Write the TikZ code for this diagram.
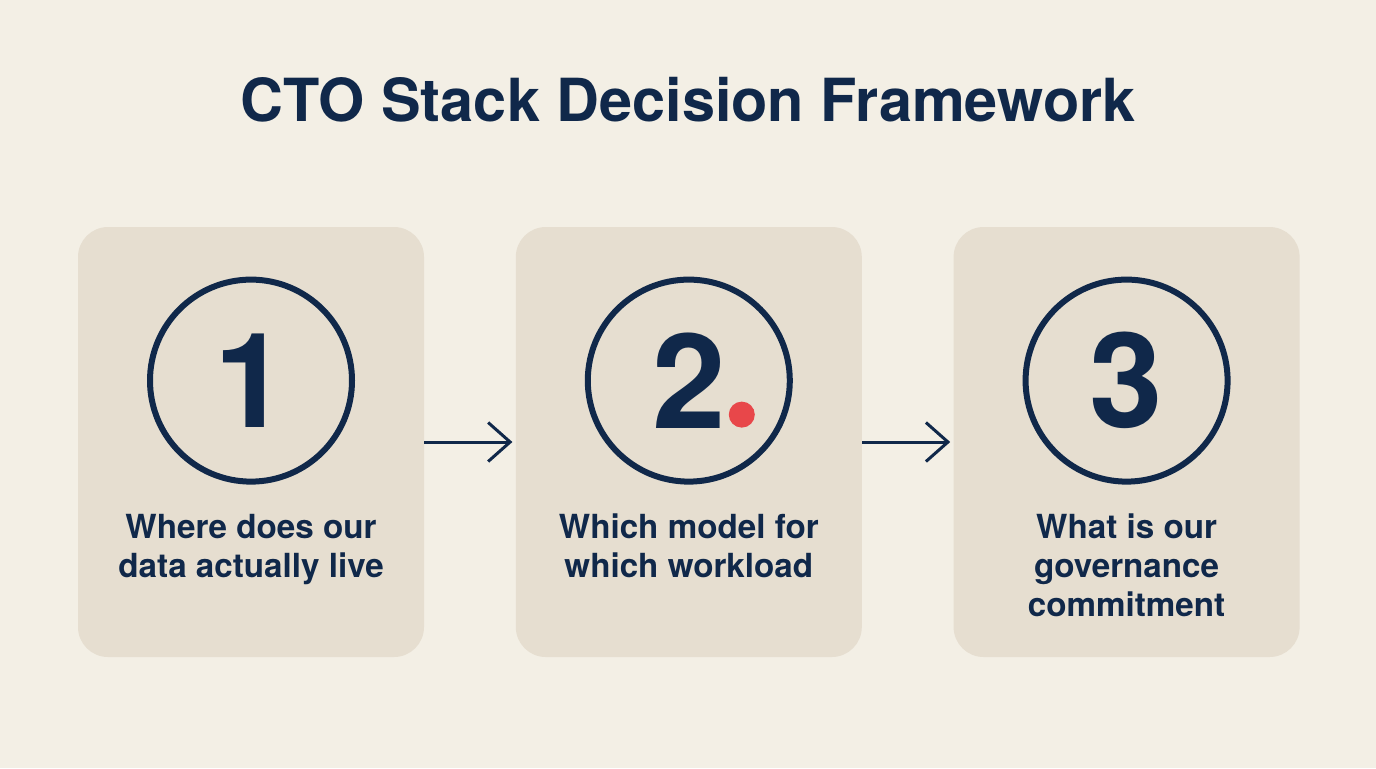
\documentclass[tikz,border=0pt]{standalone}
\usepackage{fontspec}
\setmainfont{TeX Gyre Heros}
\usepackage{tikz}
\usetikzlibrary{positioning}
\usetikzlibrary{arrows.meta}
\definecolor{paper}{HTML}{F3EFE5}
\definecolor{card}{HTML}{E6DED0}
\definecolor{navy}{HTML}{10284A}
\definecolor{accent}{HTML}{E8474A}

\begin{document}
\begin{tikzpicture}[
                          stepcard/.style={rectangle, rounded corners=15pt, fill=card, minimum width=173pt, minimum height=215pt},
                          ring/.style={circle, draw=navy, line width=3pt, minimum size=101pt, inner sep=0pt, text=navy, font=\fontsize{66}{66}\selectfont\bfseries},
                          question/.style={align=center, inner sep=0pt, text=navy, font=\fontsize{16.6}{19.5}\selectfont\bfseries},
                          reddot/.style={circle, fill=accent, minimum size=13pt, inner sep=0pt},
                          flow/.style={draw=navy, line width=1.5pt, -{Straight Barb[length=11pt, width=19.5pt]}, shorten >=1.5pt},
                      ]
                      \fill[paper] (0,0) rectangle (688pt,-384pt);
                      \useasboundingbox (0,0) rectangle (688pt,-384pt);

                      % Nodes
                      \node[text=navy, font=\fontsize{29.7}{29.7}\selectfont\bfseries] (title) at (344pt,-50pt) {CTO Stack Decision Framework};

                      \node[stepcard]        (card1)     at (125.5pt,-221pt)         {};
                      \node[stepcard]        (card2)     [right=45.5pt of card1]     {};
                      \node[stepcard]        (card3)     [right=45.5pt of card2]     {};

                      \node[ring]            (ring1)     [below=25pt of card1.north]   {1};
                      \node[ring]            (ring2)     [below=25pt of card2.north]   {2};
                      \node[ring]            (ring3)     [below=25pt of card3.north]   {3};
                      \node[reddot]          (dot2)      at ([shift={(26.5pt,-17pt)}]ring2.center) {};

                      \node[question]        (ask1)      [below=14.5pt of ring1]       {Where does our\\data actually live};
                      \node[question]        (ask2)      [below=14.5pt of ring2]       {Which model for\\which workload};
                      \node[question]        (ask3)      [below=14.5pt of ring3]       {What is our\\governance\\commitment};

                      %Lines
                      \draw[flow] (card1.east) -- (card2.west);
                      \draw[flow] (card2.east) -- (card3.west);
                  \end{tikzpicture}
\end{document}
